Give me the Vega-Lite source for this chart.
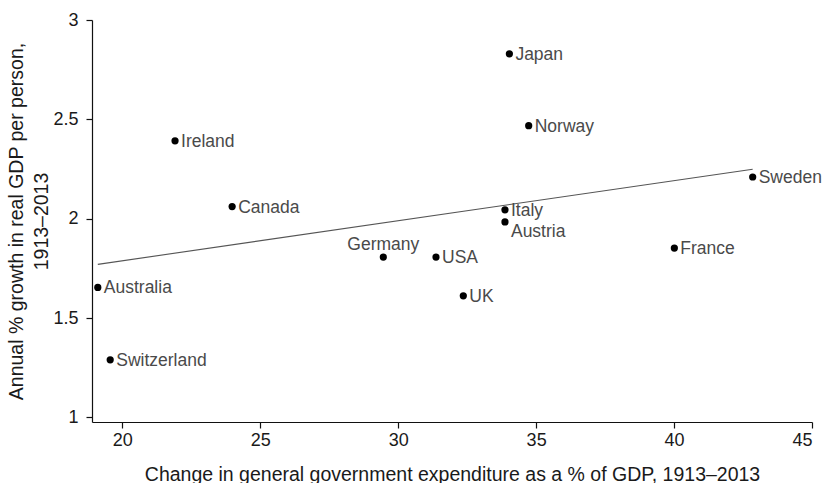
{
  "$schema": "https://vega.github.io/schema/vega-lite/v6.json",
  "width": 720,
  "height": 402,
  "autosize": {"type": "none"},
  "padding": {"left": 92, "top": 20, "right": 15, "bottom": 61},
  "background": "white",
  "config": {
    "view": {"stroke": null},
    "font": "Liberation Sans",
    "axis": {
      "grid": false,
      "domainColor": "#111",
      "domainWidth": 1.2,
      "tickColor": "#111",
      "tickWidth": 1.2,
      "tickSize": 6,
      "labelFont": "Liberation Sans",
      "labelFontSize": 18,
      "labelColor": "#1a1a1a",
      "titleFont": "Liberation Sans",
      "titleFontSize": 19.5,
      "titleFontWeight": "normal",
      "titleColor": "#1a1a1a"
    }
  },
  "data": {
    "values": [
      {"country": "Japan", "spending": 34.03, "growth": 2.83},
      {"country": "Norway", "spending": 34.73, "growth": 2.468},
      {"country": "Sweden", "spending": 42.85, "growth": 2.21},
      {"country": "Italy", "spending": 33.87, "growth": 2.045},
      {"country": "Austria", "spending": 33.87, "growth": 1.984},
      {"country": "France", "spending": 40.01, "growth": 1.852},
      {"country": "UK", "spending": 32.36, "growth": 1.612},
      {"country": "Ireland", "spending": 21.91, "growth": 2.392},
      {"country": "Canada", "spending": 23.98, "growth": 2.061},
      {"country": "Germany", "spending": 29.46, "growth": 1.807},
      {"country": "USA", "spending": 31.37, "growth": 1.807},
      {"country": "Australia", "spending": 19.11, "growth": 1.654},
      {"country": "Switzerland", "spending": 19.56, "growth": 1.29}
    ]
  },
  "encoding": {
    "x": {
      "field": "spending",
      "type": "quantitative",
      "scale": {"domain": [18.9, 45], "nice": false, "zero": false},
      "axis": {
        "values": [20, 25, 30, 35, 40, 45],
        "format": "~g",
        "labelPadding": 3,
        "title": "Change in general government expenditure as a % of GDP, 1913–2013",
        "titleBaseline": "alphabetic",
        "titleY": 58
      }
    },
    "y": {
      "field": "growth",
      "type": "quantitative",
      "scale": {"domain": [0.977, 3], "nice": false, "zero": false},
      "axis": {
        "values": [1, 1.5, 2, 2.5, 3],
        "format": "~g",
        "labelPadding": 8,
        "title": ["Annual % growth in real GDP per person,", "1913–2013"],
        "titleLineHeight": 25,
        "titleBaseline": "middle",
        "titleX": -76
      }
    }
  },
  "layer": [
    {
      "transform": [{"regression": "growth", "on": "spending"}],
      "mark": {"type": "line", "color": "#555", "strokeWidth": 1.1}
    },
    {
      "mark": {"type": "circle", "color": "#000", "opacity": 1, "size": 52}
    },
    {
      "transform": [{"filter": {"not": {"field": "country", "oneOf": ["Germany", "Austria"]}}}],
      "mark": {"type": "text", "align": "left", "baseline": "middle", "dx": 6, "dy": 1, "fontSize": 17.5, "color": "#4a4a4a"},
      "encoding": {"text": {"field": "country"}}
    },
    {
      "transform": [{"filter": {"field": "country", "equal": "Germany"}}],
      "mark": {"type": "text", "align": "center", "baseline": "middle", "dy": -12, "fontSize": 17.5, "color": "#4a4a4a"},
      "encoding": {"text": {"field": "country"}}
    },
    {
      "transform": [{"filter": {"field": "country", "equal": "Austria"}}],
      "mark": {"type": "text", "align": "left", "baseline": "middle", "dx": 6, "dy": 10, "fontSize": 17.5, "color": "#4a4a4a"},
      "encoding": {"text": {"field": "country"}}
    }
  ]
}
